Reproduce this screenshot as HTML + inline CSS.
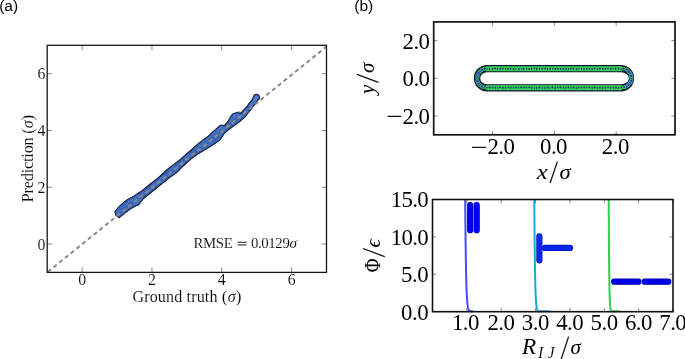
<!DOCTYPE html>
<html><head><meta charset="utf-8"><style>
html,body{margin:0;padding:0;background:#fff;overflow:hidden}
svg{display:block;filter:blur(0.4px)}
.tk{stroke:#7a7a7a;stroke-width:0.9}
.s{stroke:#fff;stroke-width:0.12px}
</style></head><body>
<svg width="685" height="359" viewBox="0 0 685 359">
<path d="M251.8,100.4 L247.6,105.9 L247.1,106.3 L243.2,111.0 L240.6,113.4 L239.3,113.6 L237.9,112.6 L236.2,112.9 L234.6,113.4 L233.3,113.6 L231.5,115.6 L229.6,119.0 L226.6,123.2 L224.5,125.6 L222.6,125.6 L221.0,125.2 L219.3,126.2 L215.9,129.3 L212.0,132.7 L210.6,134.6 L204.5,139.2 L198.3,143.8 L192.2,149.1 L186.1,154.5 L179.9,159.9 L174.4,164.2 L166.9,170.0 L158.5,177.6 L150.1,184.2 L141.8,190.9 L133.4,196.8 L126.7,200.1 L121.7,204.3 L117.5,208.5 L115.0,211.8 L115.9,215.2 L119.2,217.7 L120.0,216.9 L125.0,212.8 L130.1,209.0 L135.1,206.0 L138.4,204.8 L143.4,198.5 L151.8,191.8 L160.2,185.1 L168.5,178.4 L176.9,172.1 L183.0,166.0 L190.7,159.1 L196.8,154.5 L204.5,149.9 L212.1,145.3 L219.8,139.9 L223.9,133.7 L226.7,131.0 L232.3,126.8 L239.2,121.9 L244.8,117.0 L249.0,111.5 L253.2,105.9 L258.3,99.7 L258.8,99.2 L259.2,98.5 L259.4,97.7 L259.4,96.9 L259.1,96.2 L258.7,95.5 L258.2,95.0 L257.5,94.6 L256.7,94.4 L255.9,94.4 L255.2,94.7 L254.5,95.1Z" fill="#4a80dc" stroke="#1d2a4c" stroke-width="1.1" stroke-linejoin="round"/>
<circle cx="119.48" cy="214.02" r="2.7" fill="#4b82e0" stroke="#22335a" stroke-width="0.4"/>
<circle cx="117.85" cy="212.09" r="2.7" fill="#4b82e0" stroke="#22335a" stroke-width="0.4"/>
<circle cx="120.71" cy="212.79" r="2.7" fill="#4b82e0" stroke="#22335a" stroke-width="0.4"/>
<circle cx="119.34" cy="210.98" r="2.7" fill="#4b82e0" stroke="#22335a" stroke-width="0.4"/>
<circle cx="122.23" cy="212.06" r="2.7" fill="#4b82e0" stroke="#22335a" stroke-width="0.4"/>
<circle cx="120.27" cy="209.98" r="2.7" fill="#4b82e0" stroke="#22335a" stroke-width="0.4"/>
<circle cx="123.45" cy="210.66" r="2.7" fill="#4b82e0" stroke="#22335a" stroke-width="0.4"/>
<circle cx="121.44" cy="208.76" r="2.7" fill="#4b82e0" stroke="#22335a" stroke-width="0.4"/>
<circle cx="124.69" cy="209.53" r="2.7" fill="#4b82e0" stroke="#22335a" stroke-width="0.4"/>
<circle cx="122.43" cy="207.27" r="2.7" fill="#4b82e0" stroke="#22335a" stroke-width="0.4"/>
<circle cx="125.38" cy="208.69" r="2.7" fill="#4b82e0" stroke="#22335a" stroke-width="0.4"/>
<circle cx="123.39" cy="206.03" r="2.7" fill="#4b82e0" stroke="#22335a" stroke-width="0.4"/>
<circle cx="127.11" cy="208.23" r="2.7" fill="#4b82e0" stroke="#22335a" stroke-width="0.4"/>
<circle cx="125.14" cy="205.14" r="2.7" fill="#4b82e0" stroke="#22335a" stroke-width="0.4"/>
<circle cx="128.60" cy="207.07" r="2.7" fill="#4b82e0" stroke="#22335a" stroke-width="0.4"/>
<circle cx="125.99" cy="204.07" r="2.7" fill="#4b82e0" stroke="#22335a" stroke-width="0.4"/>
<circle cx="129.55" cy="206.21" r="2.7" fill="#4b82e0" stroke="#22335a" stroke-width="0.4"/>
<circle cx="127.43" cy="203.47" r="2.7" fill="#4b82e0" stroke="#22335a" stroke-width="0.4"/>
<circle cx="131.04" cy="205.16" r="2.7" fill="#4b82e0" stroke="#22335a" stroke-width="0.4"/>
<circle cx="128.74" cy="202.18" r="2.7" fill="#4b82e0" stroke="#22335a" stroke-width="0.4"/>
<circle cx="132.48" cy="204.52" r="2.7" fill="#4b82e0" stroke="#22335a" stroke-width="0.4"/>
<circle cx="130.03" cy="201.11" r="2.7" fill="#4b82e0" stroke="#22335a" stroke-width="0.4"/>
<circle cx="134.18" cy="203.81" r="2.7" fill="#4b82e0" stroke="#22335a" stroke-width="0.4"/>
<circle cx="131.72" cy="200.49" r="2.7" fill="#4b82e0" stroke="#22335a" stroke-width="0.4"/>
<circle cx="135.40" cy="203.04" r="2.7" fill="#4b82e0" stroke="#22335a" stroke-width="0.4"/>
<circle cx="132.61" cy="199.76" r="2.7" fill="#4b82e0" stroke="#22335a" stroke-width="0.4"/>
<circle cx="137.18" cy="202.25" r="2.7" fill="#4b82e0" stroke="#22335a" stroke-width="0.4"/>
<circle cx="134.67" cy="199.41" r="2.7" fill="#4b82e0" stroke="#22335a" stroke-width="0.4"/>
<circle cx="138.35" cy="201.23" r="2.7" fill="#4b82e0" stroke="#22335a" stroke-width="0.4"/>
<circle cx="135.78" cy="198.16" r="2.7" fill="#4b82e0" stroke="#22335a" stroke-width="0.4"/>
<circle cx="138.78" cy="199.57" r="2.7" fill="#4b82e0" stroke="#22335a" stroke-width="0.4"/>
<circle cx="137.13" cy="197.27" r="2.7" fill="#4b82e0" stroke="#22335a" stroke-width="0.4"/>
<circle cx="140.02" cy="198.41" r="2.7" fill="#4b82e0" stroke="#22335a" stroke-width="0.4"/>
<circle cx="138.54" cy="196.13" r="2.7" fill="#4b82e0" stroke="#22335a" stroke-width="0.4"/>
<circle cx="140.54" cy="196.33" r="2.7" fill="#4b82e0" stroke="#22335a" stroke-width="0.4"/>
<circle cx="141.98" cy="195.53" r="2.7" fill="#4b82e0" stroke="#22335a" stroke-width="0.4"/>
<circle cx="143.11" cy="194.09" r="2.7" fill="#4b82e0" stroke="#22335a" stroke-width="0.4"/>
<circle cx="143.96" cy="193.28" r="2.7" fill="#4b82e0" stroke="#22335a" stroke-width="0.4"/>
<circle cx="145.61" cy="192.41" r="2.7" fill="#4b82e0" stroke="#22335a" stroke-width="0.4"/>
<circle cx="146.94" cy="191.71" r="2.7" fill="#4b82e0" stroke="#22335a" stroke-width="0.4"/>
<circle cx="147.96" cy="190.75" r="2.7" fill="#4b82e0" stroke="#22335a" stroke-width="0.4"/>
<circle cx="149.56" cy="189.57" r="2.7" fill="#4b82e0" stroke="#22335a" stroke-width="0.4"/>
<circle cx="150.53" cy="188.72" r="2.7" fill="#4b82e0" stroke="#22335a" stroke-width="0.4"/>
<circle cx="151.94" cy="187.32" r="2.7" fill="#4b82e0" stroke="#22335a" stroke-width="0.4"/>
<circle cx="153.15" cy="186.68" r="2.7" fill="#4b82e0" stroke="#22335a" stroke-width="0.4"/>
<circle cx="154.37" cy="185.23" r="2.7" fill="#4b82e0" stroke="#22335a" stroke-width="0.4"/>
<circle cx="155.48" cy="184.07" r="2.7" fill="#4b82e0" stroke="#22335a" stroke-width="0.4"/>
<circle cx="156.80" cy="183.59" r="2.7" fill="#4b82e0" stroke="#22335a" stroke-width="0.4"/>
<circle cx="158.23" cy="182.37" r="2.7" fill="#4b82e0" stroke="#22335a" stroke-width="0.4"/>
<circle cx="158.84" cy="181.28" r="2.7" fill="#4b82e0" stroke="#22335a" stroke-width="0.4"/>
<circle cx="160.52" cy="180.73" r="2.7" fill="#4b82e0" stroke="#22335a" stroke-width="0.4"/>
<circle cx="161.84" cy="179.57" r="2.7" fill="#4b82e0" stroke="#22335a" stroke-width="0.4"/>
<circle cx="162.77" cy="178.39" r="2.7" fill="#4b82e0" stroke="#22335a" stroke-width="0.4"/>
<circle cx="164.35" cy="177.66" r="2.7" fill="#4b82e0" stroke="#22335a" stroke-width="0.4"/>
<circle cx="165.45" cy="176.33" r="2.7" fill="#4b82e0" stroke="#22335a" stroke-width="0.4"/>
<circle cx="166.44" cy="174.89" r="2.7" fill="#4b82e0" stroke="#22335a" stroke-width="0.4"/>
<circle cx="167.86" cy="174.17" r="2.7" fill="#4b82e0" stroke="#22335a" stroke-width="0.4"/>
<circle cx="169.46" cy="174.14" r="2.7" fill="#4b82e0" stroke="#22335a" stroke-width="0.4"/>
<circle cx="168.27" cy="171.98" r="2.7" fill="#4b82e0" stroke="#22335a" stroke-width="0.4"/>
<circle cx="170.99" cy="172.78" r="2.7" fill="#4b82e0" stroke="#22335a" stroke-width="0.4"/>
<circle cx="169.59" cy="171.44" r="2.7" fill="#4b82e0" stroke="#22335a" stroke-width="0.4"/>
<circle cx="172.58" cy="172.36" r="2.7" fill="#4b82e0" stroke="#22335a" stroke-width="0.4"/>
<circle cx="170.87" cy="170.79" r="2.7" fill="#4b82e0" stroke="#22335a" stroke-width="0.4"/>
<circle cx="173.59" cy="171.51" r="2.7" fill="#4b82e0" stroke="#22335a" stroke-width="0.4"/>
<circle cx="171.99" cy="169.64" r="2.7" fill="#4b82e0" stroke="#22335a" stroke-width="0.4"/>
<circle cx="174.97" cy="170.68" r="2.7" fill="#4b82e0" stroke="#22335a" stroke-width="0.4"/>
<circle cx="173.52" cy="168.70" r="2.7" fill="#4b82e0" stroke="#22335a" stroke-width="0.4"/>
<circle cx="176.47" cy="169.30" r="2.7" fill="#4b82e0" stroke="#22335a" stroke-width="0.4"/>
<circle cx="174.43" cy="167.48" r="2.7" fill="#4b82e0" stroke="#22335a" stroke-width="0.4"/>
<circle cx="176.61" cy="167.44" r="2.7" fill="#4b82e0" stroke="#22335a" stroke-width="0.4"/>
<circle cx="177.65" cy="166.39" r="2.7" fill="#4b82e0" stroke="#22335a" stroke-width="0.4"/>
<circle cx="179.01" cy="164.70" r="2.7" fill="#4b82e0" stroke="#22335a" stroke-width="0.4"/>
<circle cx="180.16" cy="164.07" r="2.7" fill="#4b82e0" stroke="#22335a" stroke-width="0.4"/>
<circle cx="181.39" cy="163.40" r="2.7" fill="#4b82e0" stroke="#22335a" stroke-width="0.4"/>
<circle cx="182.55" cy="162.13" r="2.7" fill="#4b82e0" stroke="#22335a" stroke-width="0.4"/>
<circle cx="183.45" cy="160.81" r="2.7" fill="#4b82e0" stroke="#22335a" stroke-width="0.4"/>
<circle cx="185.43" cy="159.95" r="2.7" fill="#4b82e0" stroke="#22335a" stroke-width="0.4"/>
<circle cx="186.00" cy="158.88" r="2.7" fill="#4b82e0" stroke="#22335a" stroke-width="0.4"/>
<circle cx="187.13" cy="157.86" r="2.7" fill="#4b82e0" stroke="#22335a" stroke-width="0.4"/>
<circle cx="188.78" cy="156.45" r="2.7" fill="#4b82e0" stroke="#22335a" stroke-width="0.4"/>
<circle cx="189.72" cy="155.33" r="2.7" fill="#4b82e0" stroke="#22335a" stroke-width="0.4"/>
<circle cx="191.11" cy="154.82" r="2.7" fill="#4b82e0" stroke="#22335a" stroke-width="0.4"/>
<circle cx="192.58" cy="153.71" r="2.7" fill="#4b82e0" stroke="#22335a" stroke-width="0.4"/>
<circle cx="193.64" cy="152.46" r="2.7" fill="#4b82e0" stroke="#22335a" stroke-width="0.4"/>
<circle cx="194.73" cy="151.80" r="2.7" fill="#4b82e0" stroke="#22335a" stroke-width="0.4"/>
<circle cx="196.14" cy="150.27" r="2.7" fill="#4b82e0" stroke="#22335a" stroke-width="0.4"/>
<circle cx="198.07" cy="150.27" r="2.7" fill="#4b82e0" stroke="#22335a" stroke-width="0.4"/>
<circle cx="196.59" cy="148.53" r="2.7" fill="#4b82e0" stroke="#22335a" stroke-width="0.4"/>
<circle cx="199.64" cy="149.94" r="2.7" fill="#4b82e0" stroke="#22335a" stroke-width="0.4"/>
<circle cx="197.71" cy="148.03" r="2.7" fill="#4b82e0" stroke="#22335a" stroke-width="0.4"/>
<circle cx="201.01" cy="149.33" r="2.7" fill="#4b82e0" stroke="#22335a" stroke-width="0.4"/>
<circle cx="199.27" cy="146.79" r="2.7" fill="#4b82e0" stroke="#22335a" stroke-width="0.4"/>
<circle cx="202.01" cy="147.86" r="2.7" fill="#4b82e0" stroke="#22335a" stroke-width="0.4"/>
<circle cx="200.29" cy="145.23" r="2.7" fill="#4b82e0" stroke="#22335a" stroke-width="0.4"/>
<circle cx="203.36" cy="147.06" r="2.7" fill="#4b82e0" stroke="#22335a" stroke-width="0.4"/>
<circle cx="201.59" cy="145.01" r="2.7" fill="#4b82e0" stroke="#22335a" stroke-width="0.4"/>
<circle cx="205.05" cy="146.75" r="2.7" fill="#4b82e0" stroke="#22335a" stroke-width="0.4"/>
<circle cx="202.98" cy="143.55" r="2.7" fill="#4b82e0" stroke="#22335a" stroke-width="0.4"/>
<circle cx="206.23" cy="145.41" r="2.7" fill="#4b82e0" stroke="#22335a" stroke-width="0.4"/>
<circle cx="204.21" cy="142.61" r="2.7" fill="#4b82e0" stroke="#22335a" stroke-width="0.4"/>
<circle cx="208.08" cy="144.98" r="2.7" fill="#4b82e0" stroke="#22335a" stroke-width="0.4"/>
<circle cx="205.36" cy="141.51" r="2.7" fill="#4b82e0" stroke="#22335a" stroke-width="0.4"/>
<circle cx="209.04" cy="143.80" r="2.7" fill="#4b82e0" stroke="#22335a" stroke-width="0.4"/>
<circle cx="207.01" cy="141.00" r="2.7" fill="#4b82e0" stroke="#22335a" stroke-width="0.4"/>
<circle cx="210.78" cy="143.09" r="2.7" fill="#4b82e0" stroke="#22335a" stroke-width="0.4"/>
<circle cx="207.71" cy="139.69" r="2.7" fill="#4b82e0" stroke="#22335a" stroke-width="0.4"/>
<circle cx="212.12" cy="142.07" r="2.7" fill="#4b82e0" stroke="#22335a" stroke-width="0.4"/>
<circle cx="209.00" cy="138.97" r="2.7" fill="#4b82e0" stroke="#22335a" stroke-width="0.4"/>
<circle cx="213.21" cy="141.62" r="2.7" fill="#4b82e0" stroke="#22335a" stroke-width="0.4"/>
<circle cx="210.49" cy="137.65" r="2.7" fill="#4b82e0" stroke="#22335a" stroke-width="0.4"/>
<circle cx="214.82" cy="140.43" r="2.7" fill="#4b82e0" stroke="#22335a" stroke-width="0.4"/>
<circle cx="211.66" cy="136.70" r="2.7" fill="#4b82e0" stroke="#22335a" stroke-width="0.4"/>
<circle cx="215.90" cy="139.49" r="2.7" fill="#4b82e0" stroke="#22335a" stroke-width="0.4"/>
<circle cx="214.32" cy="138.05" r="2.7" fill="#4b82e0" stroke="#22335a" stroke-width="0.4"/>
<circle cx="212.75" cy="135.51" r="2.7" fill="#4b82e0" stroke="#22335a" stroke-width="0.4"/>
<circle cx="217.31" cy="138.31" r="2.7" fill="#4b82e0" stroke="#22335a" stroke-width="0.4"/>
<circle cx="215.74" cy="136.44" r="2.7" fill="#4b82e0" stroke="#22335a" stroke-width="0.4"/>
<circle cx="213.64" cy="134.49" r="2.7" fill="#4b82e0" stroke="#22335a" stroke-width="0.4"/>
<circle cx="218.36" cy="137.68" r="2.7" fill="#4b82e0" stroke="#22335a" stroke-width="0.4"/>
<circle cx="216.91" cy="135.62" r="2.7" fill="#4b82e0" stroke="#22335a" stroke-width="0.4"/>
<circle cx="215.23" cy="133.71" r="2.7" fill="#4b82e0" stroke="#22335a" stroke-width="0.4"/>
<circle cx="219.64" cy="136.12" r="2.7" fill="#4b82e0" stroke="#22335a" stroke-width="0.4"/>
<circle cx="217.86" cy="134.37" r="2.7" fill="#4b82e0" stroke="#22335a" stroke-width="0.4"/>
<circle cx="216.50" cy="132.28" r="2.7" fill="#4b82e0" stroke="#22335a" stroke-width="0.4"/>
<circle cx="220.42" cy="134.54" r="2.7" fill="#4b82e0" stroke="#22335a" stroke-width="0.4"/>
<circle cx="217.58" cy="131.42" r="2.7" fill="#4b82e0" stroke="#22335a" stroke-width="0.4"/>
<circle cx="220.87" cy="133.42" r="2.7" fill="#4b82e0" stroke="#22335a" stroke-width="0.4"/>
<circle cx="218.63" cy="130.51" r="2.7" fill="#4b82e0" stroke="#22335a" stroke-width="0.4"/>
<circle cx="222.42" cy="132.05" r="2.7" fill="#4b82e0" stroke="#22335a" stroke-width="0.4"/>
<circle cx="220.09" cy="129.48" r="2.7" fill="#4b82e0" stroke="#22335a" stroke-width="0.4"/>
<circle cx="223.06" cy="130.53" r="2.7" fill="#4b82e0" stroke="#22335a" stroke-width="0.4"/>
<circle cx="221.23" cy="128.32" r="2.7" fill="#4b82e0" stroke="#22335a" stroke-width="0.4"/>
<circle cx="224.41" cy="129.43" r="2.7" fill="#4b82e0" stroke="#22335a" stroke-width="0.4"/>
<circle cx="222.76" cy="127.62" r="2.7" fill="#4b82e0" stroke="#22335a" stroke-width="0.4"/>
<circle cx="225.20" cy="128.35" r="2.7" fill="#4b82e0" stroke="#22335a" stroke-width="0.4"/>
<circle cx="226.54" cy="127.25" r="2.7" fill="#4b82e0" stroke="#22335a" stroke-width="0.4"/>
<circle cx="227.94" cy="126.19" r="2.7" fill="#4b82e0" stroke="#22335a" stroke-width="0.4"/>
<circle cx="228.77" cy="124.98" r="2.7" fill="#4b82e0" stroke="#22335a" stroke-width="0.4"/>
<circle cx="230.08" cy="123.99" r="2.7" fill="#4b82e0" stroke="#22335a" stroke-width="0.4"/>
<circle cx="231.35" cy="122.84" r="2.7" fill="#4b82e0" stroke="#22335a" stroke-width="0.4"/>
<circle cx="233.29" cy="122.84" r="2.7" fill="#4b82e0" stroke="#22335a" stroke-width="0.4"/>
<circle cx="231.74" cy="120.55" r="2.7" fill="#4b82e0" stroke="#22335a" stroke-width="0.4"/>
<circle cx="234.63" cy="121.63" r="2.7" fill="#4b82e0" stroke="#22335a" stroke-width="0.4"/>
<circle cx="232.03" cy="119.01" r="2.7" fill="#4b82e0" stroke="#22335a" stroke-width="0.4"/>
<circle cx="236.04" cy="120.76" r="2.7" fill="#4b82e0" stroke="#22335a" stroke-width="0.4"/>
<circle cx="232.86" cy="117.62" r="2.7" fill="#4b82e0" stroke="#22335a" stroke-width="0.4"/>
<circle cx="237.34" cy="120.29" r="2.7" fill="#4b82e0" stroke="#22335a" stroke-width="0.4"/>
<circle cx="235.82" cy="118.63" r="2.7" fill="#4b82e0" stroke="#22335a" stroke-width="0.4"/>
<circle cx="234.58" cy="116.69" r="2.7" fill="#4b82e0" stroke="#22335a" stroke-width="0.4"/>
<circle cx="238.44" cy="118.69" r="2.7" fill="#4b82e0" stroke="#22335a" stroke-width="0.4"/>
<circle cx="237.29" cy="117.44" r="2.7" fill="#4b82e0" stroke="#22335a" stroke-width="0.4"/>
<circle cx="235.38" cy="115.63" r="2.7" fill="#4b82e0" stroke="#22335a" stroke-width="0.4"/>
<circle cx="239.63" cy="117.54" r="2.7" fill="#4b82e0" stroke="#22335a" stroke-width="0.4"/>
<circle cx="237.69" cy="115.17" r="2.7" fill="#4b82e0" stroke="#22335a" stroke-width="0.4"/>
<circle cx="240.86" cy="116.97" r="2.7" fill="#4b82e0" stroke="#22335a" stroke-width="0.4"/>
<circle cx="239.00" cy="114.36" r="2.7" fill="#4b82e0" stroke="#22335a" stroke-width="0.4"/>
<circle cx="242.04" cy="115.95" r="2.7" fill="#4b82e0" stroke="#22335a" stroke-width="0.4"/>
<circle cx="243.09" cy="114.79" r="2.7" fill="#4b82e0" stroke="#22335a" stroke-width="0.4"/>
<circle cx="244.33" cy="113.80" r="2.7" fill="#4b82e0" stroke="#22335a" stroke-width="0.4"/>
<circle cx="244.98" cy="112.35" r="2.7" fill="#4b82e0" stroke="#22335a" stroke-width="0.4"/>
<circle cx="246.28" cy="111.01" r="2.7" fill="#4b82e0" stroke="#22335a" stroke-width="0.4"/>
<circle cx="247.52" cy="110.10" r="2.7" fill="#4b82e0" stroke="#22335a" stroke-width="0.4"/>
<circle cx="248.32" cy="108.37" r="2.7" fill="#4b82e0" stroke="#22335a" stroke-width="0.4"/>
<circle cx="249.87" cy="107.29" r="2.7" fill="#4b82e0" stroke="#22335a" stroke-width="0.4"/>
<circle cx="250.49" cy="105.54" r="2.7" fill="#4b82e0" stroke="#22335a" stroke-width="0.4"/>
<circle cx="251.50" cy="104.91" r="2.7" fill="#4b82e0" stroke="#22335a" stroke-width="0.4"/>
<path d="M251.8,100.4 L247.6,105.9 L247.1,106.3 L243.2,111.0 L240.6,113.4 L239.3,113.6 L237.9,112.6 L236.2,112.9 L234.6,113.4 L233.3,113.6 L231.5,115.6 L229.6,119.0 L226.6,123.2 L224.5,125.6 L222.6,125.6 L221.0,125.2 L219.3,126.2 L215.9,129.3 L212.0,132.7 L210.6,134.6 L204.5,139.2 L198.3,143.8 L192.2,149.1 L186.1,154.5 L179.9,159.9 L174.4,164.2 L166.9,170.0 L158.5,177.6 L150.1,184.2 L141.8,190.9 L133.4,196.8 L126.7,200.1 L121.7,204.3 L117.5,208.5 L115.0,211.8 L115.9,215.2 L119.2,217.7 L120.0,216.9 L125.0,212.8 L130.1,209.0 L135.1,206.0 L138.4,204.8 L143.4,198.5 L151.8,191.8 L160.2,185.1 L168.5,178.4 L176.9,172.1 L183.0,166.0 L190.7,159.1 L196.8,154.5 L204.5,149.9 L212.1,145.3 L219.8,139.9 L223.9,133.7 L226.7,131.0 L232.3,126.8 L239.2,121.9 L244.8,117.0 L249.0,111.5 L253.2,105.9 L258.3,99.7 L258.8,99.2 L259.2,98.5 L259.4,97.7 L259.4,96.9 L259.1,96.2 L258.7,95.5 L258.2,95.0 L257.5,94.6 L256.7,94.4 L255.9,94.4 L255.2,94.7 L254.5,95.1Z" fill="none" stroke="#202c50" stroke-width="1.05" stroke-linejoin="round"/>
<line x1="47.2" y1="272.4" x2="326.5" y2="46.599999999999994" stroke="#8a8a8a" stroke-width="2.0" stroke-dasharray="4.2 3.2" stroke-dashoffset="-0.6"/>
<line x1="82.11" y1="272.4" x2="82.11" y2="267.5" class="tk"/>
<line x1="82.11" y1="45.3" x2="82.11" y2="50.199999999999996" class="tk"/>
<line x1="47.2" y1="244.01" x2="52.1" y2="244.01" class="tk"/>
<line x1="326.5" y1="244.01" x2="321.6" y2="244.01" class="tk"/>
<text x="82.11" y="285.00" font-size="15.8" text-anchor="middle" class="s" style="font-family:'Liberation Serif',serif">0</text>
<text x="45.50" y="249.81" font-size="15.8" text-anchor="end" class="s" style="font-family:'Liberation Serif',serif">0</text>
<line x1="151.94" y1="272.4" x2="151.94" y2="267.5" class="tk"/>
<line x1="151.94" y1="45.3" x2="151.94" y2="50.199999999999996" class="tk"/>
<line x1="47.2" y1="187.24" x2="52.1" y2="187.24" class="tk"/>
<line x1="326.5" y1="187.24" x2="321.6" y2="187.24" class="tk"/>
<text x="151.94" y="285.00" font-size="15.8" text-anchor="middle" class="s" style="font-family:'Liberation Serif',serif">2</text>
<text x="45.50" y="193.04" font-size="15.8" text-anchor="end" class="s" style="font-family:'Liberation Serif',serif">2</text>
<line x1="221.76" y1="272.4" x2="221.76" y2="267.5" class="tk"/>
<line x1="221.76" y1="45.3" x2="221.76" y2="50.199999999999996" class="tk"/>
<line x1="47.2" y1="130.46" x2="52.1" y2="130.46" class="tk"/>
<line x1="326.5" y1="130.46" x2="321.6" y2="130.46" class="tk"/>
<text x="221.76" y="285.00" font-size="15.8" text-anchor="middle" class="s" style="font-family:'Liberation Serif',serif">4</text>
<text x="45.50" y="136.26" font-size="15.8" text-anchor="end" class="s" style="font-family:'Liberation Serif',serif">4</text>
<line x1="291.59" y1="272.4" x2="291.59" y2="267.5" class="tk"/>
<line x1="291.59" y1="45.3" x2="291.59" y2="50.199999999999996" class="tk"/>
<line x1="47.2" y1="73.69" x2="52.1" y2="73.69" class="tk"/>
<line x1="326.5" y1="73.69" x2="321.6" y2="73.69" class="tk"/>
<text x="291.59" y="285.00" font-size="15.8" text-anchor="middle" class="s" style="font-family:'Liberation Serif',serif">6</text>
<text x="45.50" y="79.49" font-size="15.8" text-anchor="end" class="s" style="font-family:'Liberation Serif',serif">6</text>
<rect x="47.2" y="45.3" width="279.30" height="227.10" fill="none" stroke="#161616" stroke-width="1.3"/>
<text x="132.40" y="301.50" font-size="16.1" text-anchor="start" textLength="109.00" lengthAdjust="spacing" class="s" style="font-family:'Liberation Serif',serif">Ground truth <tspan font-size="17">(</tspan><tspan font-style="italic">σ</tspan><tspan font-size="17">)</tspan></text>
<text x="32.60" y="202.20" font-size="16.1" text-anchor="start" textLength="87.50" lengthAdjust="spacing" transform="rotate(-90 32.60 202.20)" dx="0" class="s" style="font-family:'Liberation Serif',serif">Prediction <tspan font-size="17">(</tspan><tspan font-style="italic">σ</tspan><tspan font-size="17">)</tspan></text>
<text x="193.50" y="247.70" font-size="14.8" text-anchor="start" textLength="39.20" lengthAdjust="spacing" class="s" style="font-family:'Liberation Serif',serif">RMSE</text>
<rect x="237.6" y="241.8" width="9.0" height="0.95" fill="#111"/><rect x="237.6" y="244.45" width="9.0" height="0.95" fill="#111"/>
<text x="251.00" y="247.70" font-size="14.8" text-anchor="start" textLength="38.80" lengthAdjust="spacing" class="s" style="font-family:'Liberation Serif',serif">0.0129</text>
<text x="289.50" y="247.70" font-size="15.3" text-anchor="start" font-style="italic" class="s" style="font-family:'Liberation Serif',serif">σ</text>
<text x="-0.8" y="10.8" font-size="15.5" style="font-family:'Liberation Sans',sans-serif">(a)</text>
<text x="354.3" y="11.0" font-size="15.5" style="font-family:'Liberation Sans',sans-serif">(b)</text>
<path d="M487.10,64.90 L621.00,64.90 A13.20,13.30 0 0 1 621.00,91.50 L487.10,91.50 A13.30,13.30 0 0 1 487.10,64.90Z M487.10,72.25 L621.00,72.25 A7.90,5.95 0 0 1 621.00,84.15 L487.10,84.15 A6.90,5.95 0 0 1 487.10,72.25Z" fill="#12122e" fill-rule="evenodd"/>
<path d="M486.10,68.7 L622.00,68.7 M486.10,87.75 L622.00,87.75" fill="none" stroke="#36d65a" stroke-width="5.0"/>
<circle cx="605.53" cy="68.68" r="1.5" fill="#1e3a5a" stroke="#3cdc5e" stroke-width="1.0"/>
<circle cx="613.04" cy="68.56" r="1.5" fill="#1e3a5a" stroke="#3cdc5e" stroke-width="1.0"/>
<circle cx="526.70" cy="68.70" r="1.5" fill="#1e3a5a" stroke="#3cdc5e" stroke-width="1.0"/>
<circle cx="552.96" cy="68.71" r="1.5" fill="#1e3a5a" stroke="#3cdc5e" stroke-width="1.0"/>
<circle cx="492.57" cy="68.88" r="1.5" fill="#1e3a5a" stroke="#3cdc5e" stroke-width="1.0"/>
<circle cx="547.25" cy="69.06" r="1.5" fill="#1e3a5a" stroke="#3cdc5e" stroke-width="1.0"/>
<circle cx="477.53" cy="75.57" r="1.7" fill="#2c2cd8" stroke="#3cd860" stroke-width="0.8"/>
<circle cx="589.57" cy="68.90" r="1.5" fill="#1e3a5a" stroke="#3cdc5e" stroke-width="1.0"/>
<circle cx="613.39" cy="87.59" r="1.5" fill="#1e3a5a" stroke="#3cdc5e" stroke-width="1.0"/>
<circle cx="479.81" cy="84.89" r="1.7" fill="#2c2cd8" stroke="#3cd860" stroke-width="0.8"/>
<circle cx="515.88" cy="68.95" r="1.5" fill="#1e3a5a" stroke="#3cdc5e" stroke-width="1.0"/>
<circle cx="480.25" cy="71.28" r="1.7" fill="#2c2cd8" stroke="#3cd860" stroke-width="0.8"/>
<circle cx="626.20" cy="86.59" r="1.7" fill="#2c2cd8" stroke="#3cd860" stroke-width="0.8"/>
<circle cx="549.89" cy="87.71" r="1.5" fill="#1e3a5a" stroke="#3cdc5e" stroke-width="1.0"/>
<circle cx="578.89" cy="68.69" r="1.5" fill="#1e3a5a" stroke="#3cdc5e" stroke-width="1.0"/>
<circle cx="497.85" cy="87.69" r="1.5" fill="#1e3a5a" stroke="#3cdc5e" stroke-width="1.0"/>
<circle cx="570.98" cy="87.62" r="1.5" fill="#1e3a5a" stroke="#3cdc5e" stroke-width="1.0"/>
<circle cx="621.05" cy="69.05" r="1.5" fill="#1e3a5a" stroke="#3cdc5e" stroke-width="1.0"/>
<circle cx="526.20" cy="87.55" r="1.5" fill="#1e3a5a" stroke="#3cdc5e" stroke-width="1.0"/>
<circle cx="563.32" cy="87.50" r="1.5" fill="#1e3a5a" stroke="#3cdc5e" stroke-width="1.0"/>
<circle cx="630.20" cy="82.82" r="1.7" fill="#2c2cd8" stroke="#3cd860" stroke-width="0.8"/>
<circle cx="544.67" cy="87.78" r="1.5" fill="#1e3a5a" stroke="#3cdc5e" stroke-width="1.0"/>
<circle cx="513.56" cy="87.48" r="1.5" fill="#1e3a5a" stroke="#3cdc5e" stroke-width="1.0"/>
<circle cx="518.78" cy="87.39" r="1.5" fill="#1e3a5a" stroke="#3cdc5e" stroke-width="1.0"/>
<circle cx="568.68" cy="69.06" r="1.5" fill="#1e3a5a" stroke="#3cdc5e" stroke-width="1.0"/>
<circle cx="586.98" cy="87.40" r="1.5" fill="#1e3a5a" stroke="#3cdc5e" stroke-width="1.0"/>
<circle cx="631.19" cy="80.78" r="1.7" fill="#2c2cd8" stroke="#3cd860" stroke-width="0.8"/>
<circle cx="510.59" cy="68.67" r="1.5" fill="#1e3a5a" stroke="#3cdc5e" stroke-width="1.0"/>
<circle cx="487.21" cy="68.86" r="1.5" fill="#1e3a5a" stroke="#3cdc5e" stroke-width="1.0"/>
<circle cx="570.87" cy="68.84" r="1.5" fill="#1e3a5a" stroke="#3cdc5e" stroke-width="1.0"/>
<circle cx="560.88" cy="68.88" r="1.5" fill="#1e3a5a" stroke="#3cdc5e" stroke-width="1.0"/>
<circle cx="555.20" cy="68.96" r="1.5" fill="#1e3a5a" stroke="#3cdc5e" stroke-width="1.0"/>
<circle cx="624.01" cy="87.25" r="1.5" fill="#1e3a5a" stroke="#3cdc5e" stroke-width="1.0"/>
<circle cx="545.01" cy="68.61" r="1.5" fill="#1e3a5a" stroke="#3cdc5e" stroke-width="1.0"/>
<circle cx="523.90" cy="87.49" r="1.5" fill="#1e3a5a" stroke="#3cdc5e" stroke-width="1.0"/>
<circle cx="608.04" cy="87.35" r="1.5" fill="#1e3a5a" stroke="#3cdc5e" stroke-width="1.0"/>
<circle cx="621.27" cy="87.51" r="1.5" fill="#1e3a5a" stroke="#3cdc5e" stroke-width="1.0"/>
<circle cx="597.57" cy="87.67" r="1.5" fill="#1e3a5a" stroke="#3cdc5e" stroke-width="1.0"/>
<circle cx="505.70" cy="68.68" r="1.5" fill="#1e3a5a" stroke="#3cdc5e" stroke-width="1.0"/>
<circle cx="534.56" cy="68.53" r="1.5" fill="#1e3a5a" stroke="#3cdc5e" stroke-width="1.0"/>
<circle cx="565.94" cy="87.68" r="1.5" fill="#1e3a5a" stroke="#3cdc5e" stroke-width="1.0"/>
<circle cx="510.68" cy="87.64" r="1.5" fill="#1e3a5a" stroke="#3cdc5e" stroke-width="1.0"/>
<circle cx="592.33" cy="68.75" r="1.5" fill="#1e3a5a" stroke="#3cdc5e" stroke-width="1.0"/>
<circle cx="521.31" cy="68.65" r="1.5" fill="#1e3a5a" stroke="#3cdc5e" stroke-width="1.0"/>
<circle cx="594.79" cy="68.50" r="1.5" fill="#1e3a5a" stroke="#3cdc5e" stroke-width="1.0"/>
<circle cx="502.80" cy="68.59" r="1.5" fill="#1e3a5a" stroke="#3cdc5e" stroke-width="1.0"/>
<circle cx="610.48" cy="87.82" r="1.5" fill="#1e3a5a" stroke="#3cdc5e" stroke-width="1.0"/>
<circle cx="581.69" cy="68.78" r="1.5" fill="#1e3a5a" stroke="#3cdc5e" stroke-width="1.0"/>
<circle cx="534.39" cy="87.92" r="1.5" fill="#1e3a5a" stroke="#3cdc5e" stroke-width="1.0"/>
<circle cx="529.24" cy="87.34" r="1.5" fill="#1e3a5a" stroke="#3cdc5e" stroke-width="1.0"/>
<circle cx="482.02" cy="86.69" r="1.7" fill="#2c2cd8" stroke="#3cd860" stroke-width="0.8"/>
<circle cx="513.50" cy="69.05" r="1.5" fill="#1e3a5a" stroke="#3cdc5e" stroke-width="1.0"/>
<circle cx="542.26" cy="87.86" r="1.5" fill="#1e3a5a" stroke="#3cdc5e" stroke-width="1.0"/>
<circle cx="597.59" cy="68.99" r="1.5" fill="#1e3a5a" stroke="#3cdc5e" stroke-width="1.0"/>
<circle cx="477.28" cy="77.97" r="1.7" fill="#2c2cd8" stroke="#3cd860" stroke-width="0.8"/>
<circle cx="500.07" cy="87.35" r="1.5" fill="#1e3a5a" stroke="#3cdc5e" stroke-width="1.0"/>
<circle cx="547.67" cy="87.63" r="1.5" fill="#1e3a5a" stroke="#3cdc5e" stroke-width="1.0"/>
<circle cx="536.80" cy="87.86" r="1.5" fill="#1e3a5a" stroke="#3cdc5e" stroke-width="1.0"/>
<circle cx="599.95" cy="68.50" r="1.5" fill="#1e3a5a" stroke="#3cdc5e" stroke-width="1.0"/>
<circle cx="542.22" cy="68.55" r="1.5" fill="#1e3a5a" stroke="#3cdc5e" stroke-width="1.0"/>
<circle cx="631.55" cy="78.04" r="1.7" fill="#2c2cd8" stroke="#3cd860" stroke-width="0.8"/>
<circle cx="523.57" cy="68.80" r="1.5" fill="#1e3a5a" stroke="#3cdc5e" stroke-width="1.0"/>
<circle cx="583.98" cy="69.02" r="1.5" fill="#1e3a5a" stroke="#3cdc5e" stroke-width="1.0"/>
<circle cx="623.50" cy="68.68" r="1.5" fill="#1e3a5a" stroke="#3cdc5e" stroke-width="1.0"/>
<circle cx="602.90" cy="68.80" r="1.5" fill="#1e3a5a" stroke="#3cdc5e" stroke-width="1.0"/>
<circle cx="508.29" cy="87.36" r="1.5" fill="#1e3a5a" stroke="#3cdc5e" stroke-width="1.0"/>
<circle cx="481.88" cy="69.64" r="1.7" fill="#2c2cd8" stroke="#3cd860" stroke-width="0.8"/>
<circle cx="626.51" cy="69.64" r="1.7" fill="#2c2cd8" stroke="#3cd860" stroke-width="0.8"/>
<circle cx="521.08" cy="87.49" r="1.5" fill="#1e3a5a" stroke="#3cdc5e" stroke-width="1.0"/>
<circle cx="630.37" cy="73.16" r="1.7" fill="#2c2cd8" stroke="#3cd860" stroke-width="0.8"/>
<circle cx="581.87" cy="87.62" r="1.5" fill="#1e3a5a" stroke="#3cdc5e" stroke-width="1.0"/>
<circle cx="558.03" cy="68.72" r="1.5" fill="#1e3a5a" stroke="#3cdc5e" stroke-width="1.0"/>
<circle cx="484.64" cy="68.75" r="1.5" fill="#1e3a5a" stroke="#3cdc5e" stroke-width="1.0"/>
<circle cx="592.19" cy="87.64" r="1.5" fill="#1e3a5a" stroke="#3cdc5e" stroke-width="1.0"/>
<circle cx="497.33" cy="68.67" r="1.5" fill="#1e3a5a" stroke="#3cdc5e" stroke-width="1.0"/>
<circle cx="518.80" cy="68.99" r="1.5" fill="#1e3a5a" stroke="#3cdc5e" stroke-width="1.0"/>
<circle cx="608.04" cy="68.50" r="1.5" fill="#1e3a5a" stroke="#3cdc5e" stroke-width="1.0"/>
<circle cx="531.46" cy="68.76" r="1.5" fill="#1e3a5a" stroke="#3cdc5e" stroke-width="1.0"/>
<circle cx="630.91" cy="75.84" r="1.7" fill="#2c2cd8" stroke="#3cd860" stroke-width="0.8"/>
<circle cx="484.50" cy="87.49" r="1.5" fill="#1e3a5a" stroke="#3cdc5e" stroke-width="1.0"/>
<circle cx="557.78" cy="87.37" r="1.5" fill="#1e3a5a" stroke="#3cdc5e" stroke-width="1.0"/>
<circle cx="628.39" cy="71.33" r="1.7" fill="#2c2cd8" stroke="#3cd860" stroke-width="0.8"/>
<circle cx="539.49" cy="87.48" r="1.5" fill="#1e3a5a" stroke="#3cdc5e" stroke-width="1.0"/>
<circle cx="492.64" cy="87.58" r="1.5" fill="#1e3a5a" stroke="#3cdc5e" stroke-width="1.0"/>
<circle cx="560.39" cy="87.33" r="1.5" fill="#1e3a5a" stroke="#3cdc5e" stroke-width="1.0"/>
<circle cx="576.50" cy="68.95" r="1.5" fill="#1e3a5a" stroke="#3cdc5e" stroke-width="1.0"/>
<circle cx="495.02" cy="68.50" r="1.5" fill="#1e3a5a" stroke="#3cdc5e" stroke-width="1.0"/>
<circle cx="586.85" cy="68.87" r="1.5" fill="#1e3a5a" stroke="#3cdc5e" stroke-width="1.0"/>
<circle cx="500.25" cy="68.86" r="1.5" fill="#1e3a5a" stroke="#3cdc5e" stroke-width="1.0"/>
<circle cx="618.10" cy="87.86" r="1.5" fill="#1e3a5a" stroke="#3cdc5e" stroke-width="1.0"/>
<circle cx="539.34" cy="68.85" r="1.5" fill="#1e3a5a" stroke="#3cdc5e" stroke-width="1.0"/>
<circle cx="594.90" cy="87.51" r="1.5" fill="#1e3a5a" stroke="#3cdc5e" stroke-width="1.0"/>
<circle cx="516.25" cy="87.58" r="1.5" fill="#1e3a5a" stroke="#3cdc5e" stroke-width="1.0"/>
<circle cx="589.20" cy="87.46" r="1.5" fill="#1e3a5a" stroke="#3cdc5e" stroke-width="1.0"/>
<circle cx="615.61" cy="68.83" r="1.5" fill="#1e3a5a" stroke="#3cdc5e" stroke-width="1.0"/>
<circle cx="478.54" cy="73.22" r="1.7" fill="#2c2cd8" stroke="#3cd860" stroke-width="0.8"/>
<circle cx="552.52" cy="87.34" r="1.5" fill="#1e3a5a" stroke="#3cdc5e" stroke-width="1.0"/>
<circle cx="555.26" cy="87.91" r="1.5" fill="#1e3a5a" stroke="#3cdc5e" stroke-width="1.0"/>
<circle cx="576.40" cy="87.85" r="1.5" fill="#1e3a5a" stroke="#3cdc5e" stroke-width="1.0"/>
<circle cx="536.76" cy="68.89" r="1.5" fill="#1e3a5a" stroke="#3cdc5e" stroke-width="1.0"/>
<circle cx="505.74" cy="87.76" r="1.5" fill="#1e3a5a" stroke="#3cdc5e" stroke-width="1.0"/>
<circle cx="618.58" cy="68.79" r="1.5" fill="#1e3a5a" stroke="#3cdc5e" stroke-width="1.0"/>
<circle cx="568.42" cy="87.39" r="1.5" fill="#1e3a5a" stroke="#3cdc5e" stroke-width="1.0"/>
<circle cx="578.88" cy="87.64" r="1.5" fill="#1e3a5a" stroke="#3cdc5e" stroke-width="1.0"/>
<circle cx="615.94" cy="87.75" r="1.5" fill="#1e3a5a" stroke="#3cdc5e" stroke-width="1.0"/>
<circle cx="584.23" cy="87.47" r="1.5" fill="#1e3a5a" stroke="#3cdc5e" stroke-width="1.0"/>
<circle cx="531.67" cy="87.64" r="1.5" fill="#1e3a5a" stroke="#3cdc5e" stroke-width="1.0"/>
<circle cx="550.15" cy="68.87" r="1.5" fill="#1e3a5a" stroke="#3cdc5e" stroke-width="1.0"/>
<circle cx="563.16" cy="68.97" r="1.5" fill="#1e3a5a" stroke="#3cdc5e" stroke-width="1.0"/>
<circle cx="478.26" cy="83.22" r="1.7" fill="#2c2cd8" stroke="#3cd860" stroke-width="0.8"/>
<circle cx="573.46" cy="68.54" r="1.5" fill="#1e3a5a" stroke="#3cdc5e" stroke-width="1.0"/>
<circle cx="602.61" cy="87.74" r="1.5" fill="#1e3a5a" stroke="#3cdc5e" stroke-width="1.0"/>
<circle cx="573.61" cy="87.50" r="1.5" fill="#1e3a5a" stroke="#3cdc5e" stroke-width="1.0"/>
<circle cx="489.48" cy="69.07" r="1.5" fill="#1e3a5a" stroke="#3cdc5e" stroke-width="1.0"/>
<circle cx="605.29" cy="87.64" r="1.5" fill="#1e3a5a" stroke="#3cdc5e" stroke-width="1.0"/>
<circle cx="507.95" cy="68.81" r="1.5" fill="#1e3a5a" stroke="#3cdc5e" stroke-width="1.0"/>
<circle cx="486.86" cy="87.66" r="1.5" fill="#1e3a5a" stroke="#3cdc5e" stroke-width="1.0"/>
<circle cx="502.88" cy="87.85" r="1.5" fill="#1e3a5a" stroke="#3cdc5e" stroke-width="1.0"/>
<circle cx="628.27" cy="84.75" r="1.7" fill="#2c2cd8" stroke="#3cd860" stroke-width="0.8"/>
<circle cx="495.28" cy="87.71" r="1.5" fill="#1e3a5a" stroke="#3cdc5e" stroke-width="1.0"/>
<circle cx="599.97" cy="87.75" r="1.5" fill="#1e3a5a" stroke="#3cdc5e" stroke-width="1.0"/>
<circle cx="610.76" cy="68.63" r="1.5" fill="#1e3a5a" stroke="#3cdc5e" stroke-width="1.0"/>
<circle cx="529.17" cy="69.04" r="1.5" fill="#1e3a5a" stroke="#3cdc5e" stroke-width="1.0"/>
<circle cx="477.38" cy="80.97" r="1.7" fill="#2c2cd8" stroke="#3cd860" stroke-width="0.8"/>
<circle cx="489.65" cy="87.47" r="1.5" fill="#1e3a5a" stroke="#3cdc5e" stroke-width="1.0"/>
<circle cx="566.12" cy="68.98" r="1.5" fill="#1e3a5a" stroke="#3cdc5e" stroke-width="1.0"/>
<line x1="492.55" y1="134.8" x2="492.55" y2="131.10000000000002" class="tk"/>
<line x1="492.55" y1="21.9" x2="492.55" y2="25.599999999999998" class="tk"/>
<line x1="433.7" y1="115.98" x2="437.4" y2="115.98" class="tk"/>
<line x1="675.0" y1="115.98" x2="671.3" y2="115.98" class="tk"/>
<text x="514.95" y="153.60" font-size="22.8" text-anchor="end" textLength="27.50" lengthAdjust="spacing" style="font-family:'Liberation Serif',serif">2.0</text>
<line x1="472.05" y1="147.40" x2="485.95" y2="147.40" stroke="#111" stroke-width="1.25"/>
<text x="430.00" y="123.88" font-size="22.8" text-anchor="end" textLength="27.50" lengthAdjust="spacing" style="font-family:'Liberation Serif',serif">2.0</text>
<line x1="387.50" y1="116.38" x2="401.00" y2="116.38" stroke="#111" stroke-width="1.25"/>
<line x1="554.35" y1="134.8" x2="554.35" y2="131.10000000000002" class="tk"/>
<line x1="554.35" y1="21.9" x2="554.35" y2="25.599999999999998" class="tk"/>
<line x1="433.7" y1="78.35" x2="437.4" y2="78.35" class="tk"/>
<line x1="675.0" y1="78.35" x2="671.3" y2="78.35" class="tk"/>
<text x="553.75" y="153.60" font-size="22.8" text-anchor="middle" textLength="27.50" lengthAdjust="spacing" style="font-family:'Liberation Serif',serif">0.0</text>
<text x="430.00" y="86.25" font-size="22.8" text-anchor="end" textLength="27.50" lengthAdjust="spacing" style="font-family:'Liberation Serif',serif">0.0</text>
<line x1="616.15" y1="134.8" x2="616.15" y2="131.10000000000002" class="tk"/>
<line x1="616.15" y1="21.9" x2="616.15" y2="25.599999999999998" class="tk"/>
<line x1="433.7" y1="40.72" x2="437.4" y2="40.72" class="tk"/>
<line x1="675.0" y1="40.72" x2="671.3" y2="40.72" class="tk"/>
<text x="615.55" y="153.60" font-size="22.8" text-anchor="middle" textLength="27.50" lengthAdjust="spacing" style="font-family:'Liberation Serif',serif">2.0</text>
<text x="430.00" y="48.62" font-size="22.8" text-anchor="end" textLength="27.50" lengthAdjust="spacing" style="font-family:'Liberation Serif',serif">2.0</text>
<rect x="433.7" y="21.9" width="241.30" height="112.90" fill="none" stroke="#111" stroke-width="1.7"/>
<text transform="translate(541.9 178.6) scale(1.12 1)" x="-4.67" y="0" font-size="22" font-style="italic" style="font-family:'Liberation Serif',serif">x</text>
<line x1="557.40" y1="161.60" x2="550.10" y2="183.00" stroke="#111" stroke-width="1.3"/>
<text transform="translate(565.9 178.7) scale(1.1 1)" x="-5.72" y="0" font-size="20.6" font-style="italic" style="font-family:'Liberation Serif',serif">σ</text>
<g transform="translate(374.3 78.3) rotate(-90)">
<text x="-15.6" y="0" font-size="21" font-style="italic" style="font-family:'Liberation Serif',serif">y</text>
<line x1="3.9" y1="-17.4" x2="-4.1" y2="4.1" stroke="#111" stroke-width="1.3"/>
<text x="5.2" y="0" font-size="21" font-style="italic" style="font-family:'Liberation Serif',serif">σ</text>
</g>
<path d="M465.20,199.50 L465.23,202.87 L465.25,206.13 L465.28,209.30 L465.30,212.37 L465.33,215.35 L465.36,218.24 L465.38,221.04 L465.41,223.76 L465.43,226.40 L465.46,228.96 L465.48,231.44 L465.51,233.85 L465.54,236.19 L465.56,238.45 L465.59,240.65 L465.61,242.78 L465.64,244.85 L465.67,246.85 L465.69,248.80 L465.72,250.69 L465.74,252.52 L465.77,254.29 L465.80,256.01 L465.82,257.68 L465.85,259.31 L465.87,260.88 L465.90,262.40 L465.92,263.88 L465.95,265.32 L465.98,266.71 L466.00,268.06 L466.03,269.37 L466.05,270.64 L466.08,271.87 L466.11,273.06 L466.13,274.22 L466.16,275.35 L466.18,276.44 L466.21,277.49 L466.24,278.52 L466.26,279.52 L466.29,280.48 L466.31,281.42 L466.34,282.33 L466.37,283.21 L466.39,284.06 L466.42,284.89 L466.44,285.70 L466.47,286.48 L466.49,287.23 L466.52,287.97 L466.55,288.68 L466.57,289.37 L466.60,290.04 L466.62,290.69 L466.65,291.32 L466.68,291.93 L466.70,292.52 L466.73,293.10 L466.75,293.66 L466.78,294.20 L466.81,294.72 L466.83,295.23 L466.86,295.73 L466.88,296.21 L466.91,296.67 L466.93,297.12 L466.96,297.56 L466.99,297.98 L467.01,298.40 L467.04,298.79 L467.06,299.18 L467.09,299.56 L467.12,299.92 L467.14,300.27 L467.17,300.62 L467.19,300.95 L467.22,301.27 L467.25,301.59 L467.27,301.89 L467.30,302.18 L467.32,302.47 L467.35,302.75 L467.37,303.01 L467.40,303.27 L467.43,303.53 L467.45,303.77 L467.48,304.01 L467.50,304.24 L467.53,304.46 L467.56,304.68 L467.58,304.89 L467.61,305.10 L467.63,305.29 L467.66,305.49 L467.69,305.67 L467.71,305.85 L467.74,306.03 L467.76,306.20 L467.79,306.36 L467.81,306.52 L467.84,306.68 L467.87,306.83 L467.89,306.98 L467.92,307.12 L467.94,307.26 L467.97,307.39 L468.00,307.52 L468.02,307.64 L468.05,307.77 L468.07,307.88 L468.10,308.00 L468.13,308.11 L468.15,308.22 L468.18,308.32 L468.20,308.42 L468.23,308.52 L468.26,308.62 L468.28,308.71 L468.31,308.80 L468.33,308.89 L468.36,308.97 L468.38,309.05 L468.41,309.13 L468.44,309.21 L468.46,309.28 L468.49,309.36 L468.51,309.43 L468.54,309.49 L468.57,309.56 L468.59,309.62 L468.62,309.69 L468.64,309.75 L468.67,309.81 L468.70,309.86 L468.72,309.92 L468.75,309.97 L468.77,310.02 L468.80,310.07 L468.82,310.12 L468.85,310.17 L468.88,310.22 L468.90,310.26 L468.93,310.30 L468.95,310.35 L468.98,310.39 L469.01,310.43 L469.03,310.46 L469.06,310.50 L469.08,310.54 L469.11,310.57 L469.14,310.61 L469.16,310.64 L469.19,310.67 L469.21,310.70 L469.24,310.73 L469.26,310.76 L469.29,310.79 L469.32,310.82 L469.34,310.84 L469.37,310.87 L469.39,310.89 L469.42,310.92 L469.45,310.94 L469.47,310.96 L469.50,310.99 L470.10,311.35 L473.00,311.35" fill="none" stroke="#4848ff" stroke-width="2.0" stroke-linejoin="round"/>
<path d="M534.30,199.50 L534.32,202.87 L534.34,206.13 L534.37,209.30 L534.39,212.37 L534.41,215.35 L534.43,218.24 L534.45,221.04 L534.48,223.76 L534.50,226.40 L534.52,228.96 L534.54,231.44 L534.56,233.85 L534.59,236.19 L534.61,238.45 L534.63,240.65 L534.65,242.78 L534.67,244.85 L534.69,246.85 L534.72,248.80 L534.74,250.69 L534.76,252.52 L534.78,254.29 L534.80,256.01 L534.83,257.68 L534.85,259.31 L534.87,260.88 L534.89,262.40 L534.91,263.88 L534.94,265.32 L534.96,266.71 L534.98,268.06 L535.00,269.37 L535.02,270.64 L535.05,271.87 L535.07,273.06 L535.09,274.22 L535.11,275.35 L535.13,276.44 L535.16,277.49 L535.18,278.52 L535.20,279.52 L535.22,280.48 L535.24,281.42 L535.26,282.33 L535.29,283.21 L535.31,284.06 L535.33,284.89 L535.35,285.70 L535.37,286.48 L535.40,287.23 L535.42,287.97 L535.44,288.68 L535.46,289.37 L535.48,290.04 L535.51,290.69 L535.53,291.32 L535.55,291.93 L535.57,292.52 L535.59,293.10 L535.62,293.66 L535.64,294.20 L535.66,294.72 L535.68,295.23 L535.70,295.73 L535.73,296.21 L535.75,296.67 L535.77,297.12 L535.79,297.56 L535.81,297.98 L535.84,298.40 L535.86,298.79 L535.88,299.18 L535.90,299.56 L535.92,299.92 L535.94,300.27 L535.97,300.62 L535.99,300.95 L536.01,301.27 L536.03,301.59 L536.05,301.89 L536.08,302.18 L536.10,302.47 L536.12,302.75 L536.14,303.01 L536.16,303.27 L536.19,303.53 L536.21,303.77 L536.23,304.01 L536.25,304.24 L536.27,304.46 L536.30,304.68 L536.32,304.89 L536.34,305.10 L536.36,305.29 L536.38,305.49 L536.41,305.67 L536.43,305.85 L536.45,306.03 L536.47,306.20 L536.49,306.36 L536.51,306.52 L536.54,306.68 L536.56,306.83 L536.58,306.98 L536.60,307.12 L536.62,307.26 L536.65,307.39 L536.67,307.52 L536.69,307.64 L536.71,307.77 L536.73,307.88 L536.76,308.00 L536.78,308.11 L536.80,308.22 L536.82,308.32 L536.84,308.42 L536.87,308.52 L536.89,308.62 L536.91,308.71 L536.93,308.80 L536.95,308.89 L536.98,308.97 L537.00,309.05 L537.02,309.13 L537.04,309.21 L537.06,309.28 L537.09,309.36 L537.11,309.43 L537.13,309.49 L537.15,309.56 L537.17,309.62 L537.19,309.69 L537.22,309.75 L537.24,309.81 L537.26,309.86 L537.28,309.92 L537.30,309.97 L537.33,310.02 L537.35,310.07 L537.37,310.12 L537.39,310.17 L537.41,310.22 L537.44,310.26 L537.46,310.30 L537.48,310.35 L537.50,310.39 L537.52,310.43 L537.55,310.46 L537.57,310.50 L537.59,310.54 L537.61,310.57 L537.63,310.61 L537.66,310.64 L537.68,310.67 L537.70,310.70 L537.72,310.73 L537.74,310.76 L537.77,310.79 L537.79,310.82 L537.81,310.84 L537.83,310.87 L537.85,310.89 L537.87,310.92 L537.90,310.94 L537.92,310.96 L537.94,310.99 L538.54,311.35 L550.20,311.35" fill="none" stroke="#16aad4" stroke-width="2.0" stroke-linejoin="round"/>
<path d="M608.70,199.50 L608.72,202.87 L608.73,206.13 L608.75,209.30 L608.76,212.37 L608.78,215.35 L608.79,218.24 L608.81,221.04 L608.82,223.76 L608.84,226.40 L608.85,228.96 L608.87,231.44 L608.88,233.85 L608.90,236.19 L608.91,238.45 L608.93,240.65 L608.94,242.78 L608.96,244.85 L608.97,246.85 L608.99,248.80 L609.00,250.69 L609.02,252.52 L609.04,254.29 L609.05,256.01 L609.07,257.68 L609.08,259.31 L609.10,260.88 L609.11,262.40 L609.13,263.88 L609.14,265.32 L609.16,266.71 L609.17,268.06 L609.19,269.37 L609.20,270.64 L609.22,271.87 L609.23,273.06 L609.25,274.22 L609.26,275.35 L609.28,276.44 L609.29,277.49 L609.31,278.52 L609.32,279.52 L609.34,280.48 L609.35,281.42 L609.37,282.33 L609.39,283.21 L609.40,284.06 L609.42,284.89 L609.43,285.70 L609.45,286.48 L609.46,287.23 L609.48,287.97 L609.49,288.68 L609.51,289.37 L609.52,290.04 L609.54,290.69 L609.55,291.32 L609.57,291.93 L609.58,292.52 L609.60,293.10 L609.61,293.66 L609.63,294.20 L609.64,294.72 L609.66,295.23 L609.67,295.73 L609.69,296.21 L609.71,296.67 L609.72,297.12 L609.74,297.56 L609.75,297.98 L609.77,298.40 L609.78,298.79 L609.80,299.18 L609.81,299.56 L609.83,299.92 L609.84,300.27 L609.86,300.62 L609.87,300.95 L609.89,301.27 L609.90,301.59 L609.92,301.89 L609.93,302.18 L609.95,302.47 L609.96,302.75 L609.98,303.01 L609.99,303.27 L610.01,303.53 L610.02,303.77 L610.04,304.01 L610.06,304.24 L610.07,304.46 L610.09,304.68 L610.10,304.89 L610.12,305.10 L610.13,305.29 L610.15,305.49 L610.16,305.67 L610.18,305.85 L610.19,306.03 L610.21,306.20 L610.22,306.36 L610.24,306.52 L610.25,306.68 L610.27,306.83 L610.28,306.98 L610.30,307.12 L610.31,307.26 L610.33,307.39 L610.34,307.52 L610.36,307.64 L610.38,307.77 L610.39,307.88 L610.41,308.00 L610.42,308.11 L610.44,308.22 L610.45,308.32 L610.47,308.42 L610.48,308.52 L610.50,308.62 L610.51,308.71 L610.53,308.80 L610.54,308.89 L610.56,308.97 L610.57,309.05 L610.59,309.13 L610.60,309.21 L610.62,309.28 L610.63,309.36 L610.65,309.43 L610.66,309.49 L610.68,309.56 L610.70,309.62 L610.71,309.69 L610.73,309.75 L610.74,309.81 L610.76,309.86 L610.77,309.92 L610.79,309.97 L610.80,310.02 L610.82,310.07 L610.83,310.12 L610.85,310.17 L610.86,310.22 L610.88,310.26 L610.89,310.30 L610.91,310.35 L610.92,310.39 L610.94,310.43 L610.95,310.46 L610.97,310.50 L610.98,310.54 L611.00,310.57 L611.01,310.61 L611.03,310.64 L611.05,310.67 L611.06,310.70 L611.08,310.73 L611.09,310.76 L611.11,310.79 L611.12,310.82 L611.14,310.84 L611.15,310.87 L611.17,310.89 L611.18,310.92 L611.20,310.94 L611.21,310.96 L611.23,310.99 L611.83,311.35 L619.60,311.35" fill="none" stroke="#2ad252" stroke-width="2.0" stroke-linejoin="round"/>
<line x1="470.19" y1="205.04" x2="470.19" y2="230.17" stroke="#0000a8" stroke-width="6.2" stroke-linecap="round"/>
<line x1="470.19" y1="205.04" x2="470.19" y2="230.17" stroke="#0000f0" stroke-width="5.0" stroke-linecap="round"/>
<line x1="476.68" y1="205.04" x2="476.68" y2="230.17" stroke="#0000a8" stroke-width="6.2" stroke-linecap="round"/>
<line x1="476.68" y1="205.04" x2="476.68" y2="230.17" stroke="#0000f0" stroke-width="5.0" stroke-linecap="round"/>
<line x1="544.99" y1="247.97" x2="570.00" y2="247.97" stroke="#0010b0" stroke-width="6.2" stroke-linecap="round"/>
<line x1="544.99" y1="247.97" x2="570.00" y2="247.97" stroke="#0524f0" stroke-width="5.0" stroke-linecap="round"/>
<line x1="539.39" y1="236.30" x2="539.39" y2="260.31" stroke="#0a18b8" stroke-width="6.2" stroke-linecap="round"/>
<line x1="539.39" y1="236.30" x2="539.39" y2="260.31" stroke="#0a28f0" stroke-width="5.0" stroke-linecap="round"/>
<line x1="614.18" y1="281.71" x2="638.37" y2="281.71" stroke="#0000a0" stroke-width="6.2" stroke-linecap="round"/>
<line x1="614.18" y1="281.71" x2="638.37" y2="281.71" stroke="#0000e6" stroke-width="5.0" stroke-linecap="round"/>
<line x1="644.69" y1="281.71" x2="668.29" y2="281.71" stroke="#0000a0" stroke-width="6.2" stroke-linecap="round"/>
<line x1="644.69" y1="281.71" x2="668.29" y2="281.71" stroke="#0000e6" stroke-width="5.0" stroke-linecap="round"/>
<line x1="466.86" y1="311.7" x2="466.86" y2="308.0" class="tk"/>
<line x1="466.86" y1="199.5" x2="466.86" y2="203.2" class="tk"/>
<text x="465.66" y="330.40" font-size="22.8" text-anchor="middle" textLength="27.50" lengthAdjust="spacing" style="font-family:'Liberation Serif',serif">1.0</text>
<line x1="501.21" y1="311.7" x2="501.21" y2="308.0" class="tk"/>
<line x1="501.21" y1="199.5" x2="501.21" y2="203.2" class="tk"/>
<text x="501.21" y="330.40" font-size="22.8" text-anchor="middle" textLength="27.50" lengthAdjust="spacing" style="font-family:'Liberation Serif',serif">2.0</text>
<line x1="535.57" y1="311.7" x2="535.57" y2="308.0" class="tk"/>
<line x1="535.57" y1="199.5" x2="535.57" y2="203.2" class="tk"/>
<text x="535.57" y="330.40" font-size="22.8" text-anchor="middle" textLength="27.50" lengthAdjust="spacing" style="font-family:'Liberation Serif',serif">3.0</text>
<line x1="569.93" y1="311.7" x2="569.93" y2="308.0" class="tk"/>
<line x1="569.93" y1="199.5" x2="569.93" y2="203.2" class="tk"/>
<text x="569.93" y="330.40" font-size="22.8" text-anchor="middle" textLength="27.50" lengthAdjust="spacing" style="font-family:'Liberation Serif',serif">4.0</text>
<line x1="604.29" y1="311.7" x2="604.29" y2="308.0" class="tk"/>
<line x1="604.29" y1="199.5" x2="604.29" y2="203.2" class="tk"/>
<text x="604.29" y="330.40" font-size="22.8" text-anchor="middle" textLength="27.50" lengthAdjust="spacing" style="font-family:'Liberation Serif',serif">5.0</text>
<line x1="638.64" y1="311.7" x2="638.64" y2="308.0" class="tk"/>
<line x1="638.64" y1="199.5" x2="638.64" y2="203.2" class="tk"/>
<text x="638.64" y="330.40" font-size="22.8" text-anchor="middle" textLength="27.50" lengthAdjust="spacing" style="font-family:'Liberation Serif',serif">6.0</text>
<line x1="673.00" y1="311.7" x2="673.00" y2="308.0" class="tk"/>
<line x1="673.00" y1="199.5" x2="673.00" y2="203.2" class="tk"/>
<text x="673.00" y="330.40" font-size="22.8" text-anchor="middle" textLength="27.50" lengthAdjust="spacing" style="font-family:'Liberation Serif',serif">7.0</text>
<line x1="432.5" y1="311.70" x2="436.2" y2="311.70" class="tk"/>
<line x1="673.0" y1="311.70" x2="669.3" y2="311.70" class="tk"/>
<text x="428.60" y="319.60" font-size="22.8" text-anchor="end" textLength="27.50" lengthAdjust="spacing" style="font-family:'Liberation Serif',serif">0.0</text>
<line x1="432.5" y1="274.30" x2="436.2" y2="274.30" class="tk"/>
<line x1="673.0" y1="274.30" x2="669.3" y2="274.30" class="tk"/>
<text x="428.60" y="282.20" font-size="22.8" text-anchor="end" textLength="27.50" lengthAdjust="spacing" style="font-family:'Liberation Serif',serif">5.0</text>
<line x1="432.5" y1="236.90" x2="436.2" y2="236.90" class="tk"/>
<line x1="673.0" y1="236.90" x2="669.3" y2="236.90" class="tk"/>
<text x="428.60" y="244.80" font-size="22.8" text-anchor="end" textLength="37.80" lengthAdjust="spacing" style="font-family:'Liberation Serif',serif">10.0</text>
<line x1="432.5" y1="199.50" x2="436.2" y2="199.50" class="tk"/>
<line x1="673.0" y1="199.50" x2="669.3" y2="199.50" class="tk"/>
<text x="428.60" y="207.40" font-size="22.8" text-anchor="end" textLength="37.80" lengthAdjust="spacing" style="font-family:'Liberation Serif',serif">15.0</text>
<rect x="432.5" y="199.5" width="240.50" height="112.20" fill="none" stroke="#111" stroke-width="1.6"/>
<text x="522.00" y="353.90" font-size="23.2" text-anchor="start" font-style="italic" style="font-family:'Liberation Serif',serif">R</text>
<text x="538.00" y="358.00" font-size="16" text-anchor="start" font-style="italic" class="s" style="font-family:'Liberation Serif',serif">I</text>
<text x="547.60" y="358.00" font-size="16" text-anchor="start" font-style="italic" class="s" style="font-family:'Liberation Serif',serif">J</text>
<line x1="568.60" y1="336.60" x2="560.90" y2="360.00" stroke="#111" stroke-width="1.3"/>
<text x="570.40" y="353.80" font-size="21.0" text-anchor="start" font-style="italic" style="font-family:'Liberation Serif',serif">σ</text>
<g transform="translate(380.0 255.6) rotate(-90)">
<text x="0" y="0" text-anchor="middle" font-size="23.5" transform="translate(-9.9 0) scale(0.8 1)" style="font-family:'Liberation Serif',serif">Φ</text>
<line x1="7.1" y1="-17.1" x2="-1.1" y2="4.7" stroke="#111" stroke-width="1.3"/>
<text x="8.0" y="0" font-size="21" font-style="italic" style="font-family:'Liberation Serif',serif">ϵ</text>
</g>
</svg>
</body></html>
